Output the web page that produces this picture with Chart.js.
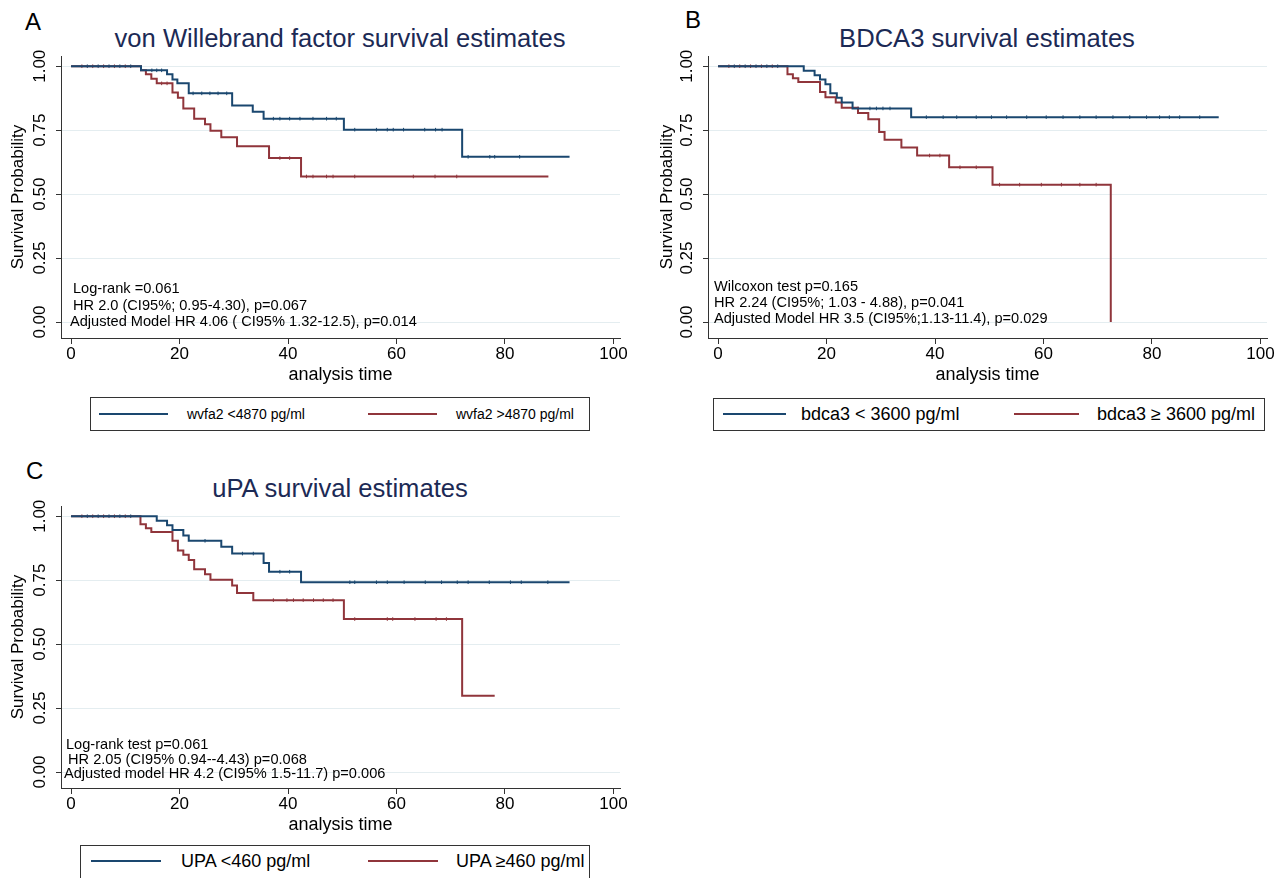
<!DOCTYPE html>
<html lang="en">
<head>
  <meta charset="UTF-8">
  <title>Survival estimates</title>
  <script src="https://cdn.jsdelivr.net/npm/chart.js"></script>
  <style>
    body {
      margin: 0;
      width: 1281px;
      height: 878px;
      background: #fff;
      position: relative;
      overflow: hidden;
      font-family: "Liberation Sans", Arial, Helvetica, sans-serif;
    }
    canvas { position: absolute; }
    .letter { position: absolute; font-size: 24px; line-height: 24px; color: #000; }
    .title {
      position: absolute;
      font-size: 25.6px;
      line-height: 28px;
      color: #1c2a55;
      white-space: nowrap;
      transform: translateX(-50%);
    }
    .note { position: absolute; font-size: 14.6px; color: #000; white-space: nowrap; }
    .legend { position: absolute; border: 1px solid #333; box-sizing: border-box; background: #fff; }
    .legend .swatch { position: absolute; height: 2px; }
    .legend .label { position: absolute; white-space: nowrap; color: #000; transform: translateY(-50%); }
  </style>
</head>
<body>
  <div class="letter" style="left:25px; top:10px;">A</div>
  <div class="title" style="left:340px; top:24px;">von Willebrand factor survival estimates</div>
  <canvas id="chartA" width="640" height="390" style="left:0; top:0;"></canvas>
  <div class="note" style="left:73px; top:280px; line-height:16.5px;">Log-rank =0.061<br>HR 2.0 (CI95%; 0.95-4.30), p=0.067<br><span style="margin-left:-3px">Adjusted Model HR 4.06 ( CI95% 1.32-12.5), p=0.014</span></div>
  <div class="legend" id="legendA"></div>

  <div class="letter" style="left:685px; top:8px;">B</div>
  <div class="title" style="left:987px; top:24px;">BDCA3 survival estimates</div>
  <canvas id="chartB" width="641" height="390" style="left:640px; top:0;"></canvas>
  <div class="note" style="left:714px; top:278px; line-height:16px;">Wilcoxon test p=0.165<br>HR 2.24 (CI95%; 1.03 - 4.88), p=0.041<br>Adjusted Model HR 3.5 (CI95%;1.13-11.4), p=0.029</div>
  <div class="legend" id="legendB"></div>

  <div class="letter" style="left:26px; top:459px;">C</div>
  <div class="title" style="left:340px; top:474px;">uPA survival estimates</div>
  <canvas id="chartC" width="640" height="390" style="left:0; top:450px;"></canvas>
  <div class="note" style="left:66px; top:737px; line-height:14.5px;">Log-rank test p=0.061<br><span style="margin-left:2px">HR 2.05 (CI95% 0.94--4.43) p=0.068</span><br><span style="margin-left:-2px">Adjusted model HR 4.2 (CI95% 1.5-11.7) p=0.006</span></div>
  <div class="legend" id="legendC"></div>

  <script>
    // axis ticks
    const xTicks = [0, 20, 40, 60, 80, 100];
    const yTicks = [0, 0.25, 0.5, 0.75, 1];

    // A: von Willebrand factor
    const vwfLowTime = [0, 12.9, 17.7, 18.7, 19.6, 21.7, 29.7, 33.5, 35.5, 50.3, 72.1, 91.9];
    const vwfLowSurv = [1, 0.984, 0.969, 0.948, 0.933, 0.894, 0.846, 0.822, 0.795, 0.752, 0.646, 0.646];
    const vwfLowCensor = [3, 5, 7, 9, 11, 14.9, 15.8, 16.7, 22.5, 24.1, 25.6, 27.1, 28.7, 37.3, 38.5, 40.3, 42.2, 44.6, 47.1, 48.9,
                          52.3, 56.3, 58.3, 59.4, 61.3, 65.2, 67.2, 68.4, 73.2, 77.2, 78.1, 82.7];
    const vwfHighTime = [0, 12.9, 13.8, 14.8, 15.8, 18.7, 19.7, 20.7, 22.7, 24.7, 25.7, 27.7, 30.6, 36.5, 42.4, 88.0];
    const vwfHighSurv = [1, 0.984, 0.969, 0.951, 0.933, 0.897, 0.877, 0.835, 0.795, 0.773, 0.748, 0.722, 0.687, 0.641, 0.569, 0.569];
    const vwfHighCensor = [2, 4, 6, 8, 10, 16.7, 17.7, 38.5, 40.3, 43.4, 44.6, 47.1, 48.3, 52.3, 63.1, 67.1, 71.1];

    // B: BDCA3
    const bdcaLowTime = [0, 15.8, 17.8, 18.8, 19.8, 20.7, 21.9, 22.8, 24.8, 35.6, 92.3];
    const bdcaLowSurv = [1, 0.982, 0.965, 0.948, 0.930, 0.894, 0.877, 0.858, 0.835, 0.801, 0.801];
    const bdcaLowCensor = [3, 5, 7, 9, 11, 25.8, 28.0, 29.2, 30.4, 31.7, 38.4, 41.5, 44.0, 47.6, 50.4, 53.2, 56.9, 60.5,
                           63.6, 66.7, 69.7, 72.8, 75.9, 79.0, 81.4, 83.2, 85.1, 88.8];
    const bdcaHighTime = [0, 12.8, 13.8, 14.8, 18.8, 19.8, 21.7, 22.8, 25.8, 27.7, 29.7, 30.7, 33.8, 36.7, 42.6, 50.6, 72.4];
    const bdcaHighSurv = [1, 0.969, 0.953, 0.938, 0.899, 0.879, 0.858, 0.838, 0.817, 0.793, 0.743, 0.713, 0.682, 0.651, 0.605, 0.537, 0];
    const bdcaHighCensor = [2, 4, 6, 8, 10, 39.0, 40.9, 44.6, 47.6, 51.9, 55.6, 59.6, 63.3, 66.7, 69.7];

    // C: uPA
    const upaLowTime = [0, 15.8, 17.7, 18.7, 20.7, 21.7, 27.7, 29.7, 35.5, 36.5, 42.4, 91.9];
    const upaLowSurv = [1, 0.982, 0.965, 0.946, 0.925, 0.904, 0.881, 0.854, 0.817, 0.783, 0.742, 0.742];
    const upaLowCensor = [3, 5, 7, 9, 11, 24.7, 31.6, 33.6, 38.5, 40.3, 51.4, 52.3, 56.3, 58.3, 61.4, 65.3, 68.3, 71.2,
                          73.2, 77.1, 81.0, 83.0, 87.9];
    const upaHighTime = [0, 12.8, 13.8, 14.8, 18.7, 19.7, 20.7, 21.7, 22.7, 24.7, 25.7, 29.7, 30.6, 33.6, 50.3, 72.1, 78.1];
    const upaHighSurv = [1, 0.969, 0.953, 0.938, 0.904, 0.866, 0.849, 0.829, 0.793, 0.773, 0.752, 0.729, 0.700, 0.672, 0.598, 0.298, 0.298];
    const upaHighCensor = [2, 4, 6, 8, 10, 37.3, 39.8, 41.0, 42.8, 44.7, 46.5, 48.3, 52.3, 58.3, 59.3, 63.4, 67.3, 69.2];

    const BLUE = '#1a476f';
    const RED = '#90353b';
    const FONT = '"Liberation Sans", Arial, Helvetica, sans-serif';

    // survival value in force at time t (step function)
    const survAt = (times, surv, t) => {
      let v = surv[0];
      times.forEach((tt, i) => { if (tt <= t) v = surv[i]; });
      return v;
    };

    const makeChart = (id, series, yWidth, yTitlePad, rightPad) => {
      const datasets = [];
      series.forEach(s => datasets.push({
        label: s.label,
        data: s.time.map((t, i) => ({ x: t, y: s.surv[i] })),
        borderColor: s.color,
        borderWidth: 2,
        stepped: 'before',   // hold the value, then drop at the next event time
        pointRadius: 0,
        fill: false,
        inLegend: true
      }));
      // censoring ticks
      series.forEach(s => datasets.push({
        type: 'scatter',
        label: s.label + ' (censored)',
        data: s.censor.map(t => ({ x: t, y: survAt(s.time, s.surv, t) })),
        pointStyle: 'line',
        rotation: 90,
        pointRadius: 1.8,
        borderColor: s.color,
        borderWidth: 1,
        inLegend: false
      }));

      return new Chart(document.getElementById(id), {
        type: 'line',
        data: { datasets },
        options: {
          responsive: false,
          animation: false,
          events: [],
          layout: { padding: { top: 56, right: rightPad, left: 0, bottom: 0 } },
          plugins: { legend: { display: false }, tooltip: { enabled: false } },
          scales: {
            x: {
              type: 'linear',
              min: -1.85,
              max: 101.2,
              afterBuildTicks: scale => { scale.ticks = xTicks.map(v => ({ value: v })); },
              afterFit: scale => { scale.height = 52; },
              grid: { drawOnChartArea: false, drawTicks: true, tickLength: 6, tickColor: '#333' },
              border: { display: true, color: '#333', width: 1 },
              ticks: { color: '#000', font: { family: FONT, size: 17 }, padding: 0, maxRotation: 0 },
              title: { display: true, text: 'analysis time', color: '#000', font: { family: FONT, size: 18 }, padding: { top: 0, bottom: 4 } }
            },
            y: {
              type: 'linear',
              min: -0.0625,
              max: 1.04,
              afterBuildTicks: scale => { scale.ticks = yTicks.map(v => ({ value: v })); },
              afterFit: scale => { scale.width = yWidth; },
              grid: { color: '#e4edf0', lineWidth: 1, drawTicks: true, tickLength: 5, tickColor: '#333' },
              border: { display: true, color: '#333', width: 1 },
              ticks: {
                color: '#000',
                font: { family: FONT, size: 17 },
                minRotation: 90,
                maxRotation: 90,
                crossAlign: 'center',
                padding: -1,
                callback: v => Number(v).toFixed(2)
              },
              title: { display: true, text: 'Survival Probability', color: '#000', font: { family: FONT, size: 17 }, padding: { top: yTitlePad, bottom: 0 } }
            }
          }
        }
      });
    };

    // legend boxes built from each chart's datasets
    const makeLegend = (chart, id, box) => {
      const el = document.getElementById(id);
      Object.assign(el.style, { left: box.left + 'px', top: box.top + 'px', width: box.width + 'px', height: box.height + 'px' });
      chart.data.datasets.filter(d => d.inLegend).forEach((d, i) => {
        const item = box.items[i];
        const sw = document.createElement('div');
        sw.className = 'swatch';
        Object.assign(sw.style, { left: item.swatchX + 'px', width: item.swatchW + 'px', top: (box.mid - 1) + 'px', background: d.borderColor });
        const lb = document.createElement('div');
        lb.className = 'label';
        lb.textContent = d.label;
        Object.assign(lb.style, { left: item.textX + 'px', top: box.mid + 'px', fontSize: box.font + 'px' });
        el.appendChild(sw);
        el.appendChild(lb);
      });
    };

    const chartA = makeChart('chartA', [
      { label: 'wvfa2 <4870 pg/ml', time: vwfLowTime, surv: vwfLowSurv, censor: vwfLowCensor, color: BLUE },
      { label: 'wvfa2 >4870 pg/ml', time: vwfHighTime, surv: vwfHighSurv, censor: vwfHighCensor, color: RED }
    ], 61, 8, 20);

    const chartB = makeChart('chartB', [
      { label: 'bdca3 < 3600 pg/ml', time: bdcaLowTime, surv: bdcaLowSurv, censor: bdcaLowCensor, color: BLUE },
      { label: 'bdca3 \u2265 3600 pg/ml', time: bdcaHighTime, surv: bdcaHighSurv, censor: bdcaHighCensor, color: RED }
    ], 68, 17, 14);

    const chartC = makeChart('chartC', [
      { label: 'UPA <460 pg/ml', time: upaLowTime, surv: upaLowSurv, censor: upaLowCensor, color: BLUE },
      { label: 'UPA \u2265460 pg/ml', time: upaHighTime, surv: upaHighSurv, censor: upaHighCensor, color: RED }
    ], 61, 8, 20);

    makeLegend(chartA, 'legendA', { left: 90, top: 397, width: 500, height: 34, mid: 16, font: 14,
      items: [{ swatchX: 8, swatchW: 69, textX: 96 }, { swatchX: 277, swatchW: 69, textX: 365 }] });
    makeLegend(chartB, 'legendB', { left: 713, top: 398, width: 552, height: 33, mid: 15, font: 18,
      items: [{ swatchX: 9, swatchW: 63, textX: 87 }, { swatchX: 300, swatchW: 65, textX: 383 }] });
    makeLegend(chartC, 'legendC', { left: 80, top: 845, width: 510, height: 45, mid: 15, font: 18,
      items: [{ swatchX: 10, swatchW: 70, textX: 100 }, { swatchX: 287, swatchW: 70, textX: 375 }] });
  </script>
</body>
</html>
